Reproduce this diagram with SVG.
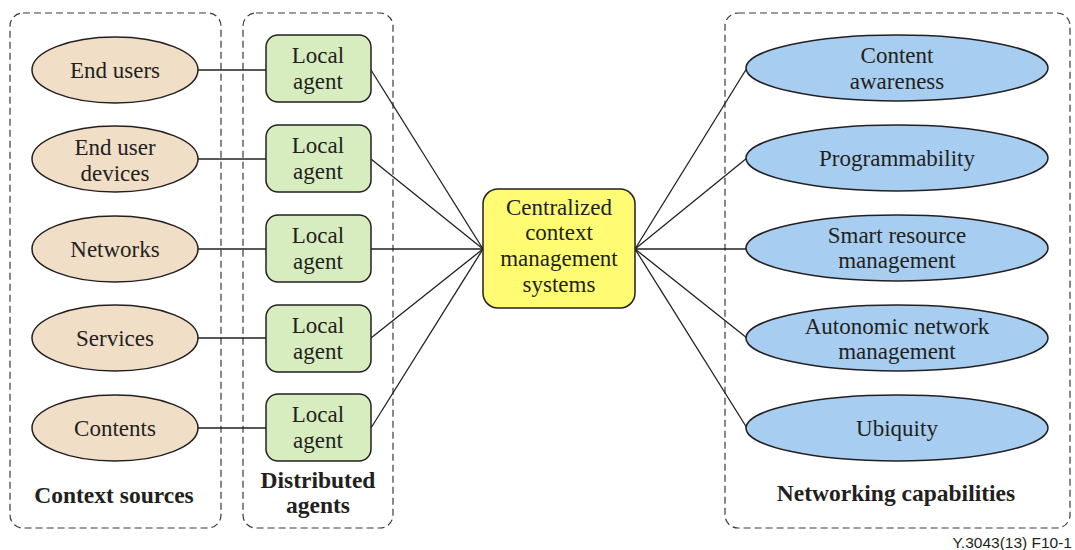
<svg xmlns="http://www.w3.org/2000/svg" width="1075" height="550" viewBox="0 0 1075 550">
  <style>
    .frame { fill: none; stroke: #3a3a3a; stroke-width: 1.2; stroke-dasharray: 7 4; }
    .src { fill: #F0DEC7; stroke: #231f20; stroke-width: 1.5; }
    .agent { fill: #D8EDBF; stroke: #231f20; stroke-width: 1.5; }
    .hub { fill: #FFFC74; stroke: #231f20; stroke-width: 1.5; }
    .cap { fill: #A7CEF0; stroke: #231f20; stroke-width: 1.5; }
    .link { fill: none; stroke: #231f20; stroke-width: 1.3; }
    text { font-family: "Liberation Serif", "Times New Roman", serif; fill: #231f20; text-anchor: middle; }
    .lbl { font-size: 23px; }
    .title { font-size: 23.5px; font-weight: bold; }
    .ref { font-family: "Liberation Sans", Arial, sans-serif; font-size: 15.5px; text-anchor: end; }
  </style>

  <!-- grouping frames -->
  <g id="frames">
    <rect class="frame" x="10" y="13" width="211" height="515" rx="13"/>
    <rect class="frame" x="243" y="13" width="150" height="515" rx="13"/>
    <rect class="frame" x="725" y="13" width="345" height="515" rx="13"/>
  </g>

  <!-- connectors -->
  <g id="connectors">
    <line class="link" x1="198" y1="70" x2="266" y2="70"/>
    <line class="link" x1="198" y1="159" x2="266" y2="159"/>
    <line class="link" x1="198" y1="249" x2="266" y2="249"/>
    <line class="link" x1="198" y1="338" x2="266" y2="338"/>
    <line class="link" x1="198" y1="428" x2="266" y2="428"/>
    <line class="link" x1="371" y1="70" x2="483" y2="249"/>
    <line class="link" x1="371" y1="159" x2="483" y2="249"/>
    <line class="link" x1="371" y1="249" x2="483" y2="249"/>
    <line class="link" x1="371" y1="338" x2="483" y2="249"/>
    <line class="link" x1="371" y1="428" x2="483" y2="249"/>
    <line class="link" x1="635" y1="249" x2="747" y2="68"/>
    <line class="link" x1="635" y1="249" x2="747" y2="158"/>
    <line class="link" x1="635" y1="249" x2="747" y2="249"/>
    <line class="link" x1="635" y1="249" x2="747" y2="338"/>
    <line class="link" x1="635" y1="249" x2="747" y2="428"/>
  </g>

  <!-- context sources -->
  <g id="src-end-users">
    <ellipse class="src" cx="115" cy="70" rx="83" ry="33"/>
    <text class="lbl" x="115" y="78">End users</text>
  </g>
  <g id="src-end-user-devices">
    <ellipse class="src" cx="115" cy="159" rx="83" ry="33"/>
    <text class="lbl" x="115" y="155">End user</text>
    <text class="lbl" x="115" y="181">devices</text>
  </g>
  <g id="src-networks">
    <ellipse class="src" cx="115" cy="249" rx="83" ry="33"/>
    <text class="lbl" x="115" y="257">Networks</text>
  </g>
  <g id="src-services">
    <ellipse class="src" cx="115" cy="338" rx="83" ry="33"/>
    <text class="lbl" x="115" y="346">Services</text>
  </g>
  <g id="src-contents">
    <ellipse class="src" cx="115" cy="428" rx="83" ry="33"/>
    <text class="lbl" x="115" y="436">Contents</text>
  </g>
  <text class="title" x="114" y="503">Context sources</text>

  <!-- distributed agents -->
  <g id="agent-1">
    <rect class="agent" x="266" y="35" width="105" height="67" rx="12"/>
    <text class="lbl" x="318" y="63">Local</text>
    <text class="lbl" x="318" y="89">agent</text>
  </g>
  <g id="agent-2">
    <rect class="agent" x="266" y="125" width="105" height="67" rx="12"/>
    <text class="lbl" x="318" y="153">Local</text>
    <text class="lbl" x="318" y="179">agent</text>
  </g>
  <g id="agent-3">
    <rect class="agent" x="266" y="215" width="105" height="67" rx="12"/>
    <text class="lbl" x="318" y="243">Local</text>
    <text class="lbl" x="318" y="269">agent</text>
  </g>
  <g id="agent-4">
    <rect class="agent" x="266" y="305" width="105" height="67" rx="12"/>
    <text class="lbl" x="318" y="333">Local</text>
    <text class="lbl" x="318" y="359">agent</text>
  </g>
  <g id="agent-5">
    <rect class="agent" x="266" y="394" width="105" height="67" rx="12"/>
    <text class="lbl" x="318" y="422">Local</text>
    <text class="lbl" x="318" y="448">agent</text>
  </g>
  <text class="title" x="318" y="488">Distributed</text>
  <text class="title" x="318" y="513">agents</text>

  <!-- central hub -->
  <g id="hub">
    <rect class="hub" x="483" y="189" width="152" height="119" rx="15"/>
    <text class="lbl" x="559" y="215">Centralized</text>
    <text class="lbl" x="559" y="240">context</text>
    <text class="lbl" x="559" y="266">management</text>
    <text class="lbl" x="559" y="292">systems</text>
  </g>

  <!-- networking capabilities -->
  <g id="cap-content-awareness">
    <ellipse class="cap" cx="897" cy="68" rx="151" ry="33"/>
    <text class="lbl" x="897" y="63">Content</text>
    <text class="lbl" x="897" y="89">awareness</text>
  </g>
  <g id="cap-programmability">
    <ellipse class="cap" cx="897" cy="158" rx="151" ry="33"/>
    <text class="lbl" x="897" y="166">Programmability</text>
  </g>
  <g id="cap-smart-resource">
    <ellipse class="cap" cx="897" cy="248" rx="151" ry="33"/>
    <text class="lbl" x="897" y="243">Smart resource</text>
    <text class="lbl" x="897" y="268">management</text>
  </g>
  <g id="cap-autonomic">
    <ellipse class="cap" cx="897" cy="338" rx="151" ry="33"/>
    <text class="lbl" x="897" y="334">Autonomic network</text>
    <text class="lbl" x="897" y="359">management</text>
  </g>
  <g id="cap-ubiquity">
    <ellipse class="cap" cx="897" cy="428" rx="151" ry="33"/>
    <text class="lbl" x="897" y="436">Ubiquity</text>
  </g>
  <text class="title" x="896" y="501">Networking capabilities</text>

  <text class="ref" x="1072" y="548">Y.3043(13)  F10-1</text>
</svg>
